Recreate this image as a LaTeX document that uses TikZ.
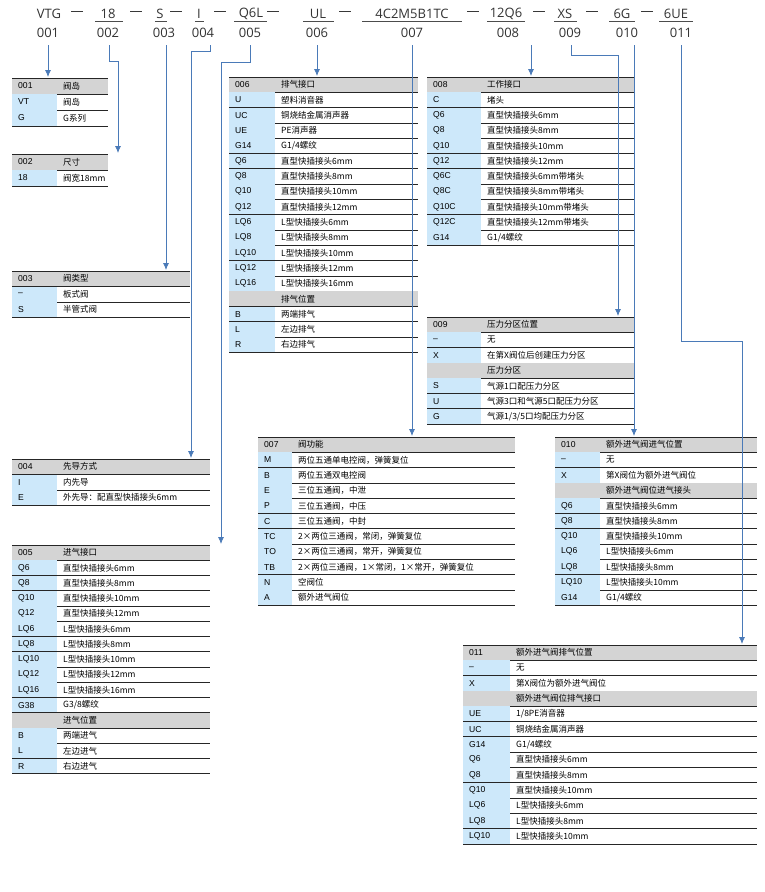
\documentclass[tikz,border=0pt]{standalone}
\usepackage{fontspec}
\setmainfont{Liberation Sans}
\newfontfamily\cjk{Noto Sans CJK SC}
\newfontfamily\hdf{Open Sans}
\usetikzlibrary{arrows.meta}
\definecolor{hdgray}{HTML}{D4D4D4}
\definecolor{cblue}{HTML}{CDE8FA}
\definecolor{conn}{HTML}{4A7AB8}
\tikzset{
 code/.style={anchor=west,inner sep=0pt,font=\fontsize{8.6}{9}\selectfont},
 txt/.style={anchor=west,inner sep=0pt,font=\cjk\fontsize{8.5}{9}\selectfont},
 rl/.style={line width=0.8pt,black!85},
 cn/.style={draw=conn,line width=0.8pt,-{Latex[length=7pt,width=6pt]}},
 top/.style={inner sep=0pt,font=\hdf\fontsize{13}{14}\selectfont,text=black!80},
 num/.style={inner sep=0pt,font=\hdf\fontsize{13}{14}\selectfont,text=black!80},
}
\def\secmark{*}
% name, x0, xs, x1, ytop, h, rows
\newcommand\tbl[7]{%
\foreach \a/\b [count=\i from 0] in {#7}{%
 \pgfmathsetmacro\yt{#5+\i*#6}\pgfmathsetmacro\yb{\yt+#6}\pgfmathsetmacro\ym{\yt+#6/2}%
 \edef\tmpa{\a}%
 \ifnum\i=0
  \fill[hdgray] (#2,\yt) rectangle (#4,\yb);
  \draw[rl] (#2,\yt) -- (#4,\yt);
  \node[code] (#1-c\i) at (#2+6,\ym) {\a};
 \else\ifx\tmpa\secmark
  \fill[hdgray] (#2,\yt) rectangle (#4,\yb);
 \else
  \fill[cblue] (#2,\yt) rectangle (#3,\yb);
  \node[code] (#1-c\i) at (#2+6,\ym) {\a};
 \fi\fi
 \node[txt] (#1-t\i) at (#3+6,\ym) {\b};
 \draw[rl] (#2,\yb) -- (#4,\yb);
}}
\begin{document}
\begin{tikzpicture}[x=1pt,y=-1pt]
\useasboundingbox (0,0) rectangle (764,892);
\fill[white] (0,0) rectangle (764,892);
% top code line
\foreach \n/\x/\t/\l/\r in {a/49/VTG/0/0,b/108/18/95/123,c/160/S/155/167,d/199/I/195/204,e/251/Q6L/234/267,f/318/UL/303/334,g/412/4C2M5B1TC/362/462,h/506/12Q6/487/525,i/565/XS/554/577,j/622/6G/609/635,k/676/6UE/659/693}{
 \node[top] (k\n) at (\x,14) {\t};
 \ifnum\l>0 \draw[black!70,line width=0.6pt] (\l,21) -- (\r,21);\fi
}
\foreach \x [count=\i] in {77,136,176,220,273,345,473,539,592,647}{
 \node[top] (d\i) at (\x,14) {—};
}
\foreach \n/\x in {001/48,002/108,003/164,004/203,005/250,006/317,007/412,008/508,009/570,010/627,011/681}{
 \node[num] (n\n) at (\x,33) {\n};
}
% tables
\tbl{t001}{12}{57}{108}{78}{16}{001/{阀岛},VT/{阀岛},G/{G系列}}
\tbl{t002}{12}{57}{108}{154}{16}{002/{尺寸},18/{阀宽18mm}}
\tbl{t003}{12}{57}{190}{271}{15.5}{003/{阀类型},–/{板式阀},S/{半管式阀}}
\tbl{t004}{12}{57}{210}{459}{15.5}{004/{先导方式},I/{内先导},E/{外先导：配直型快插接头6mm}}
\tbl{t005}{12}{57}{210}{545}{15.25}{005/{进气接口},Q6/{直型快插接头6mm},Q8/{直型快插接头8mm},Q10/{直型快插接头10mm},Q12/{直型快插接头12mm},LQ6/{L型快插接头6mm},LQ8/{L型快插接头8mm},LQ10/{L型快插接头10mm},LQ12/{L型快插接头12mm},LQ16/{L型快插接头16mm},G38/{G3/8螺纹},*/{进气位置},B/{两端进气},L/{左边进气},R/{右边进气}}
\tbl{t006}{229}{275}{418}{77}{15.3}{006/{排气接口},U/{塑料消音器},UC/{铜烧结金属消声器},UE/{PE消声器},G14/{G1/4螺纹},Q6/{直型快插接头6mm},Q8/{直型快插接头8mm},Q10/{直型快插接头10mm},Q12/{直型快插接头12mm},LQ6/{L型快插接头6mm},LQ8/{L型快插接头8mm},LQ10/{L型快插接头10mm},LQ12/{L型快插接头12mm},LQ16/{L型快插接头16mm},*/{排气位置},B/{两端排气},L/{左边排气},R/{右边排气}}
\tbl{t007}{258}{292}{515}{437}{15.3}{007/{阀功能},M/{两位五通单电控阀，弹簧复位},B/{两位五通双电控阀},E/{三位五通阀，中泄},P/{三位五通阀，中压},C/{三位五通阀，中封},TC/{2×两位三通阀，常闭，弹簧复位},TO/{2×两位三通阀，常开，弹簧复位},TB/{2×两位三通阀，1×常闭，1×常开，弹簧复位},N/{空阀位},A/{额外进气阀位}}
\tbl{t008}{427}{481}{635}{77}{15.3}{008/{工作接口},C/{堵头},Q6/{直型快插接头6mm},Q8/{直型快插接头8mm},Q10/{直型快插接头10mm},Q12/{直型快插接头12mm},Q6C/{直型快插接头6mm带堵头},Q8C/{直型快插接头8mm带堵头},Q10C/{直型快插接头10mm带堵头},Q12C/{直型快插接头12mm带堵头},G14/{G1/4螺纹}}
\tbl{t009}{427}{481}{635}{317}{15.3}{009/{压力分区位置},–/{无},X/{在第X阀位后创建压力分区},*/{压力分区},S/{气源1口配压力分区},U/{气源3口和气源5口配压力分区},G/{气源1/3/5口均配压力分区}}
\tbl{t010}{555}{600}{757}{437}{15.3}{010/{额外进气阀进气位置},–/{无},X/{第X阀位为额外进气阀位},*/{额外进气阀位进气接头},Q6/{直型快插接头6mm},Q8/{直型快插接头8mm},Q10/{直型快插接头10mm},LQ6/{L型快插接头6mm},LQ8/{L型快插接头8mm},LQ10/{L型快插接头10mm},G14/{G1/4螺纹}}
\tbl{t011}{463}{510}{757}{645}{15.3}{011/{额外进气阀排气位置},–/{无},X/{第X阀位为额外进气阀位},*/{额外进气阀位排气接口},UE/{1/8PE消音器},UC/{铜烧结金属消声器},G14/{G1/4螺纹},Q6/{直型快插接头6mm},Q8/{直型快插接头8mm},Q10/{直型快插接头10mm},LQ6/{L型快插接头6mm},LQ8/{L型快插接头8mm},LQ10/{L型快插接头10mm}}
% connectors
\coordinate (e001) at (48,77);
\coordinate (e002) at (118,153);
\coordinate (e003) at (166,270);
\coordinate (e004) at (191,458);
\coordinate (e005) at (221,544);
\coordinate (e006) at (317,76);
\coordinate (e007) at (412,436);
\coordinate (e008) at (531,76);
\coordinate (e009) at (618,316);
\coordinate (e010) at (634,436);
\coordinate (e011) at (742,644);
\draw[cn] (48,45) -- (e001);
\draw[cn] (109,45) -- (109,61) -| (e002);
\draw[cn] (166,45) -- (e003);
\draw[cn] (210,45) -- (210,51) -| (e004);
\draw[cn] (250,45) -- (250,62) -| (e005);
\draw[cn] (317,45) -- (e006);
\draw[cn] (412,45) -- (e007);
\draw[cn] (531,45) -- (e008);
\draw[cn] (571,45) -- (571,55) -| (e009);
\draw[cn] (634,45) -- (e010);
\draw[cn] (681,45) -- (681,341) -| (e011);
\end{tikzpicture}
\end{document}
